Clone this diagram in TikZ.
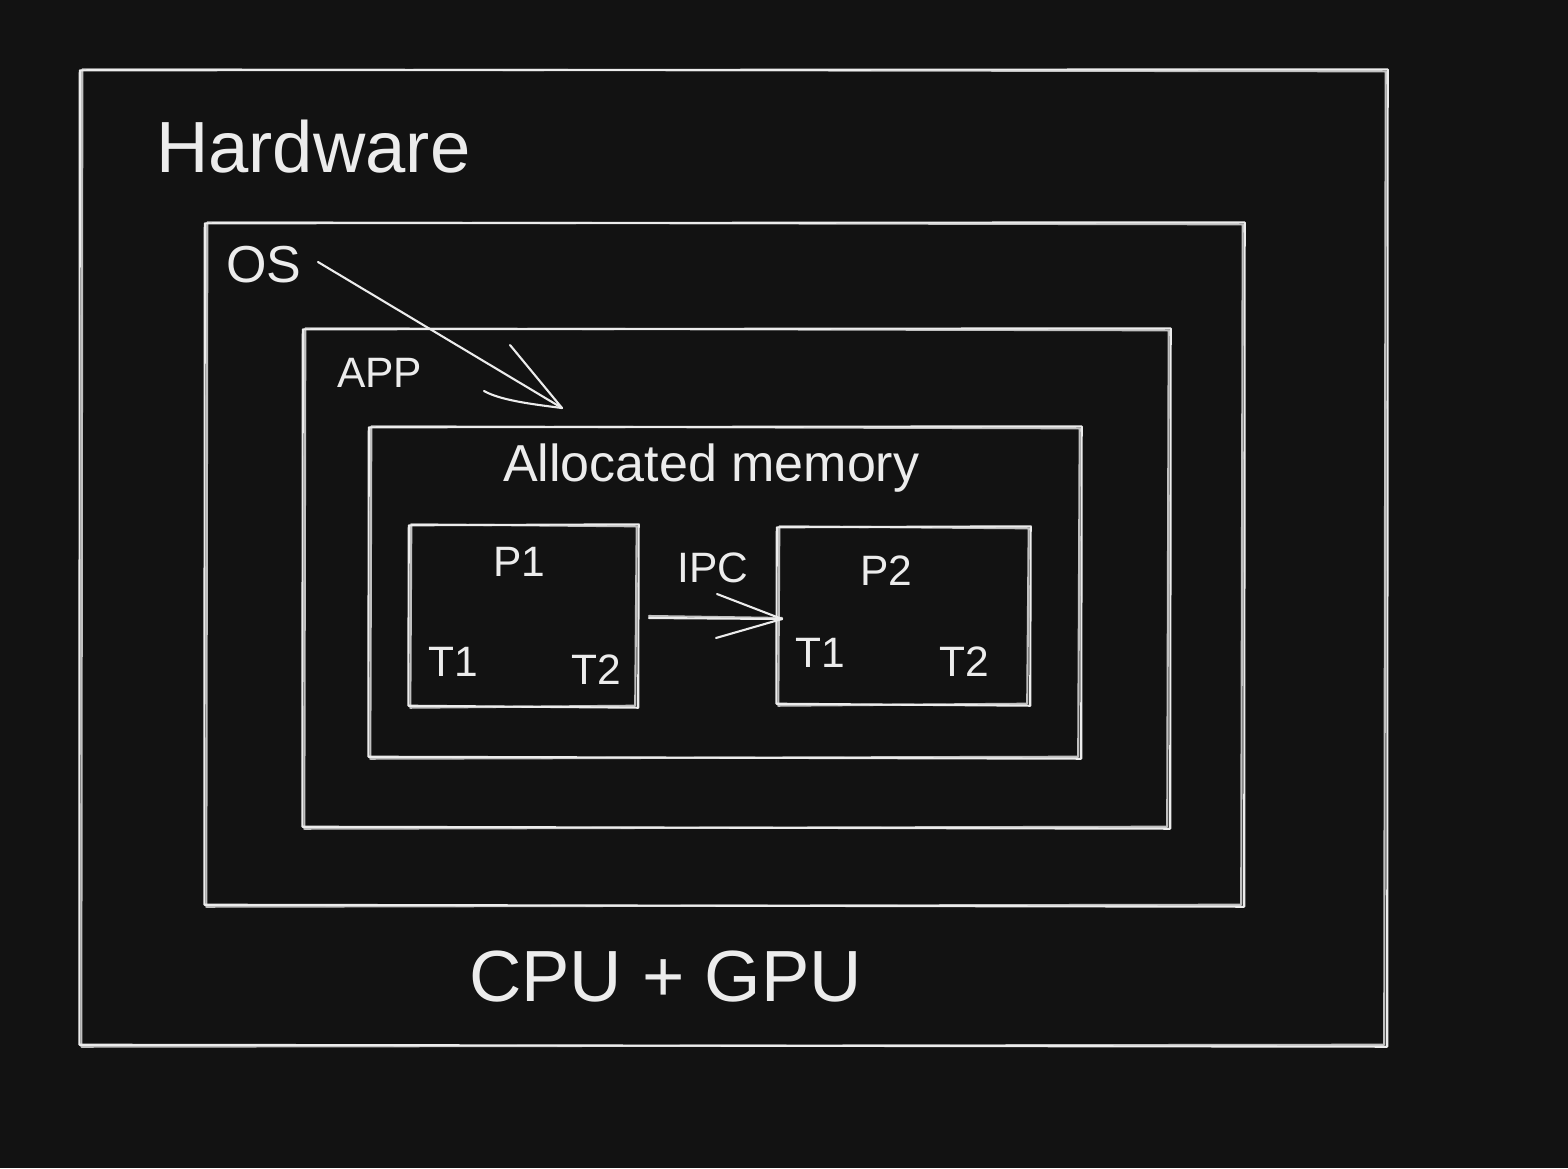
\documentclass[tikz,border=0pt]{standalone}
\usepackage{fontspec}
\setmainfont{Liberation Sans}
\usetikzlibrary{fit}
\definecolor{bg}{HTML}{121212}
\definecolor{ink}{HTML}{ECECEC}
\tikzset{
  sk/.style={draw=ink, line width=2.1pt, line join=round, line cap=round},
  frame/.style={inner sep=0pt, draw=none},
  lbl/.style={text=ink, inner sep=0pt, anchor=base west},
  huge/.style={lbl, font=\fontsize{72.5}{80}\selectfont},
  big/.style={lbl, font=\fontsize{52}{60}\selectfont},
  mid/.style={lbl, font=\fontsize{42.5}{48}\selectfont},
}
\newcommand\skbox[1]{%
  \draw[sk] ([shift={(-1,0.5)}]#1.north west) -- ([shift={(1.5,-0.5)}]#1.north east) -- ([shift={(1,1.5)}]#1.south east) -- ([shift={(-1.5,-0.5)}]#1.south west) -- cycle;
  \draw[sk, opacity=0.8] ([shift={(1.5,-0.5)}]#1.north west) -- ([shift={(-0.5,1.5)}]#1.north east) -- ([shift={(-2,-0.5)}]#1.south east) -- ([shift={(0.5,1.5)}]#1.south west) -- cycle;
}
\begin{document}
\begin{tikzpicture}[x=1pt, y=-1pt]
\fill[bg] (0,0) rectangle (1568,1168);
\useasboundingbox (0,0) rectangle (1568,1168);

% frames
\node[frame, fit={(81,70)(1386,1045)}] (hw) {};
\node[frame, fit={(206,223)(1243,905)}] (os) {};
\node[frame, fit={(304,329)(1169,827)}] (app) {};
\node[frame, fit={(370,427)(1080,757)}] (mem) {};
\node[frame, fit={(410,525)(637,706)}] (p1) {};
\node[frame, fit={(778,527)(1029,704)}] (p2) {};
\skbox{hw}\skbox{os}\skbox{app}\skbox{mem}\skbox{p1}\skbox{p2}

% labels
\node[huge] (lhw) at (156,172) {Hardware};
\node[huge] (lcpu) at (469,1001) {CPU + GPU};
\node[big] (los) at (226,282) {OS};
\node[mid] (lapp) at (337,387) {APP};
\node[big] (lmem) at (503,481) {Allocated memory};
\node[mid] (lp1) at (493,576) {P1};
\node[mid] (lt11) at (428,676) {T1};
\node[mid] (lt21) at (571,684) {T2};
\node[mid] (lipc) at (677,582) {IPC};
\node[mid] (lp2) at (860,585) {P2};
\node[mid] (lt12) at (795,667) {T1};
\node[mid] (lt22) at (939,676) {T2};

% OS arrow
\coordinate (osA) at (318,262);
\coordinate (osB) at (562,408);
\coordinate (osH1) at (510,345);
\coordinate (osH2) at (484,391);
\draw[sk] (osA) -- (osB);
\draw[sk] (osH1) -- (osB);
\draw[sk] (osH2) .. controls (500,400) and (530,404) .. (osB);

% IPC arrow
\coordinate (ipA) at (649,618);
\coordinate (ipB) at (782,619);
\draw[sk] (ipA) -- (ipB);
\draw[sk, opacity=0.8] ([yshift=2]ipA) -- ([yshift=1]ipB);
\draw[sk] (717,594) -- (ipB);
\draw[sk] (716,638) -- (ipB);
\end{tikzpicture}
\end{document}
